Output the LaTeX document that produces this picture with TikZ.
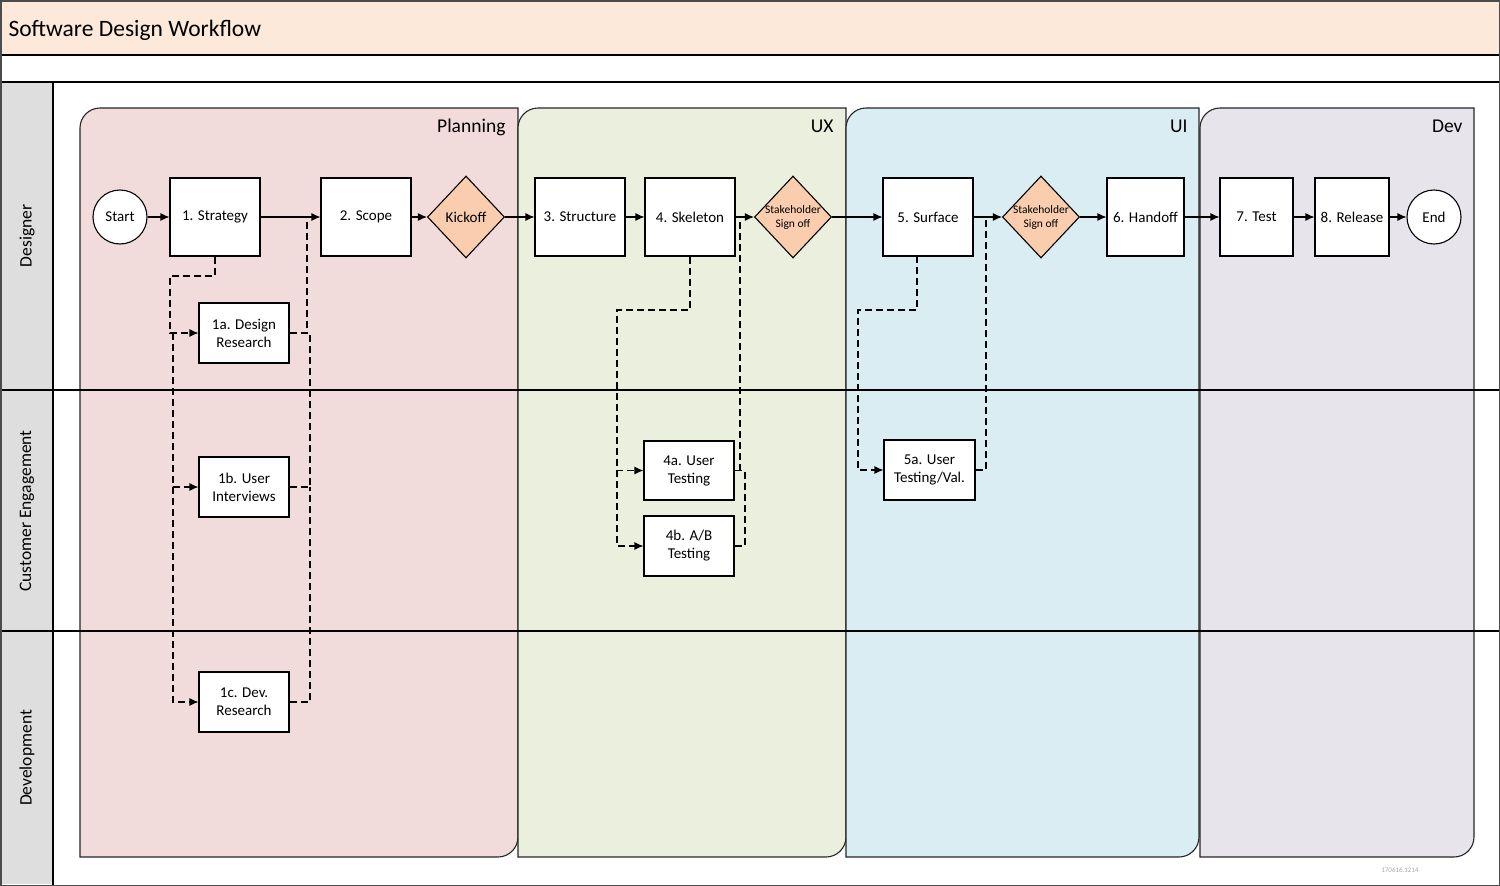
\documentclass[tikz,border=0pt]{standalone}
\usepackage{fontspec}
\setmainfont{Carlito}
\usetikzlibrary{shapes.geometric,arrows.meta}
\definecolor{hdr}{HTML}{FDE9D9}
\definecolor{lanegrey}{HTML}{DEDEDE}
\definecolor{plan}{HTML}{F2DCDB}
\definecolor{uxc}{HTML}{EBF0DE}
\definecolor{uic}{HTML}{DAEDF3}
\definecolor{devc}{HTML}{E7E4EC}
\definecolor{dia}{HTML}{F9CDAE}
\newcommand\boxfont{\fontsize{15}{18}\selectfont}
\tikzset{
 proc/.style={draw, fill=white, line width=1.1pt, minimum width=90pt, minimum height=78pt, inner sep=1pt, font=\boxfont, align=center},
 sub/.style={proc, minimum height=60pt},
 term/.style={circle, draw, fill=white, line width=1.1pt, minimum size=54pt, inner sep=0pt, font=\boxfont},
 gate/.style={diamond, draw, fill=dia, line width=1.1pt, minimum width=77pt, minimum height=82pt, inner sep=0pt, font=\boxfont},
 flow/.style={-{Latex[length=9pt,width=8pt]}, line width=1.1pt},
 dline/.style={line width=1.1pt, dash pattern=on 7pt off 4pt},
 dflow/.style={dline, -{Latex[length=9pt,width=8pt]}},
 phase/.style={draw=black!85, line width=1.1pt},
 lanelbl/.style={rotate=90, font=\fontsize{17.5}{20}\selectfont},
 phaselbl/.style={anchor=base east, font=\fontsize{19.5}{22}\selectfont},
}
\begin{document}
\begin{tikzpicture}[x=1pt,y=-1pt]
\useasboundingbox (0,0) rectangle (1500,886);
% header and lane column
\fill[hdr] (0,0) rectangle (1500,55);
\fill[lanegrey] (0,82) rectangle (53,884);
% phases
\draw[phase, fill=plan] (80,857) -- (80,128) .. controls (80,117) and (89,108) .. (100,108) -- (518,108) -- (518,837) .. controls (518,848) and (509,857) .. (498,857) -- cycle;
\draw[phase, fill=uxc] (518,857) -- (518,128) .. controls (518,117) and (527,108) .. (538,108) -- (846,108) -- (846,837) .. controls (846,848) and (837,857) .. (826,857) -- cycle;
\draw[phase, fill=uic] (846,857) -- (846,128) .. controls (846,117) and (855,108) .. (866,108) -- (1199,108) -- (1199,837) .. controls (1199,848) and (1190,857) .. (1179,857) -- cycle;
\draw[phase, fill=devc] (1200,857) -- (1200,128) .. controls (1200,117) and (1209,108) .. (1220,108) -- (1474,108) -- (1474,837) .. controls (1474,848) and (1465,857) .. (1454,857) -- cycle;
% lane lines
\draw[line width=1.1pt] (0,55) -- (1500,55);
\draw[line width=1.1pt] (0,82) -- (1500,82);
\draw[line width=1.1pt] (0,390) -- (1500,390);
\draw[line width=1.1pt] (0,631) -- (1500,631);
\draw[line width=1.1pt] (53,82) -- (53,885);
\draw[line width=1.5pt, draw=black!70] (0.75,0.75) rectangle (1499.25,885.25);
% texts
\node[anchor=base west, font=\fontsize{23.5}{28}\selectfont] (title) at (5,36) {Software Design Workflow};
\node[lanelbl] (l1) at (27,236) {Designer};
\node[lanelbl] (l2) at (27,511) {Customer Engagement};
\node[lanelbl] (l3) at (27,758) {Development};
\node[phaselbl] (p1) at (509,132) {Planning};
\node[phaselbl] (p2) at (837,132) {UX};
\node[phaselbl] (p3) at (1191,132) {UI};
\node[phaselbl] (p4) at (1466,132) {Dev};
\node[font=\fontsize{7}{8}\selectfont, text=black!35] (ver) at (1400,870) {170616.1214};
% nodes
\node[term] (start) at (120,217) {Start};
\node[proc] (strat) at (215,217) {1. Strategy};
\node[proc] (scope) at (366,217) {2. Scope};
\node[gate] (kick) at (466,217) {Kickoff};
\node[proc] (struct) at (580,217) {3. Structure};
\node[proc] (skel) at (690,217) {4. Skeleton};
\node[gate, label={[font=\fontsize{11.5}{14}\selectfont, align=center]center:Stakeholder\\Sign off}] (sh1) at (793,217) {};
\node[proc] (surf) at (928,217) {5. Surface};
\node[gate, label={[font=\fontsize{11.5}{14}\selectfont, align=center]center:Stakeholder\\Sign off}] (sh2) at (1041,217) {};
\node[proc, minimum width=77pt] (hand) at (1145.5,217) {6. Handoff};
\node[proc, minimum width=73pt] (test) at (1256.5,217) {7. Test};
\node[proc, minimum width=74pt] (rel) at (1352,217) {8. Release};
\node[term] (end) at (1434,217) {End};
\node[sub] (n1a) at (244,333) {1a. Design\\Research};
\node[sub] (n1b) at (244,487) {1b. User\\Interviews};
\node[sub] (n1c) at (244,702) {1c. Dev.\\Research};
\node[sub, minimum height=59pt] (n4a) at (689,470.5) {4a. User\\Testing};
\node[sub] (n4b) at (689,546) {4b. A/B\\Testing};
\node[sub, minimum width=91pt] (n5a) at (929.5,470) {5a. User\\Testing/Val.};
% main flow
\draw[flow] (start) -- (strat);
\draw[flow] (strat) -- (scope);
\draw[flow] (scope) -- (kick);
\draw[flow] (kick) -- (struct);
\draw[flow] (struct) -- (skel);
\draw[flow] (skel) -- (sh1);
\draw[flow] (sh1) -- (surf);
\draw[flow] (surf) -- (sh2);
\draw[flow] (sh2) -- (hand);
\draw[flow] (hand) -- (test);
\draw[flow] (test) -- (rel);
\draw[flow] (rel) -- (end);
% planning dashed
\coordinate (ja) at (173,333);
\coordinate (jb) at (173,487);
\coordinate (m1) at (307,217);
\coordinate (ra) at (310,333);
\coordinate (rb) at (310,487);
\draw[dflow] (strat.south) |- (170,276) |- (n1a.west);
\draw[dflow] (ja) |- (n1b.west);
\draw[dflow] (jb) |- (n1c.west);
\draw[dline] (n1a.east) -| (m1);
\draw[dline] (n1b.east) -| (ra) -- (307,333);
\draw[dline] (n1c.east) -| (rb);
% UX dashed
\coordinate (m2) at (740,217);
\coordinate (jc) at (617,470);
\draw[dflow] (skel.south) |- (617,310) |- (n4a.west);
\draw[dflow] (jc) |- (n4b.west);
\draw[dline] (n4a.east) -- (745,470.5);
\draw[dline] (740,470.5) -- (m2);
\draw[dline] (n4b.east) -| (745,470.5);
% UI dashed
\coordinate (m3) at (986,217);
\coordinate (su) at (917,256);
\draw[dflow] (su) |- (858,310) |- (n5a.west);
\draw[dline] (n5a.east) -| (m3);
\end{tikzpicture}
\end{document}
